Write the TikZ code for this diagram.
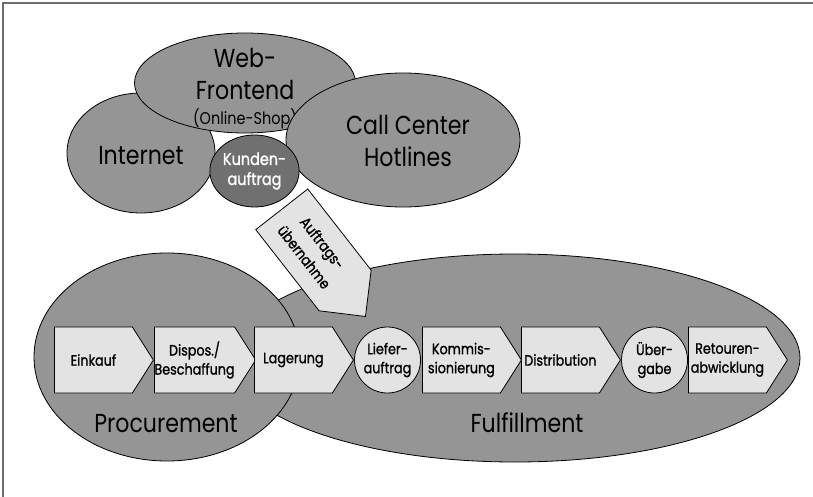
\documentclass[tikz,border=0pt]{standalone}
\usepackage{fontspec}
\setmainfont{Poppins}[FakeStretch=0.85]
\newfontfamily\labelfont{Poppins}[FakeStretch=0.85, FakeBold=1.2]
\usetikzlibrary{shapes.geometric,shapes.symbols}
\definecolor{blobgray}{gray}{0.585}
\definecolor{boxgray}{gray}{0.89}
\definecolor{ordergray}{gray}{0.44}
\definecolor{framegray}{gray}{0.43}
\begin{document}
\begin{tikzpicture}[x=1pt,y=-1pt,
  blob/.style={ellipse, draw, fill=blobgray, line width=0.8pt, inner sep=0pt},
  bigtext/.style={align=center, inner sep=0pt, font=\fontsize{26}{32}\selectfont},
  stepbox/.style={signal, signal to=east, signal pointer angle=115, draw, fill=boxgray, line width=0.8pt, minimum width=99pt, minimum height=66pt, inner sep=0pt, align=center, font=\labelfont\fontsize{15}{19}\selectfont, anchor=west},
  handover/.style={circle, draw, fill=boxgray, line width=0.8pt, minimum size=66pt, inner sep=0pt, align=center, font=\labelfont\fontsize{15}{19}\selectfont}]
\useasboundingbox (0,0) rectangle (813,497);
\draw[framegray, line width=2pt] (3,497) -- (3,3) -- (813,3);

\node[blob, minimum width=148pt, minimum height=120pt] (internet) at (141,153) {};
\node[bigtext, anchor=base] (internettext) at (141,165) {Internet};
\node[blob, minimum width=221pt, minimum height=100pt] (web) at (245,83) {};
\node[bigtext] (webtext) at (245,89) {Web-\\Frontend\\[-7pt]{\fontsize{17}{20}\selectfont(Online-Shop)}};
\node[blob, minimum width=234pt, minimum height=134pt] (callcenter) at (403,140) {};
\node[bigtext] (calltext) at (408,141) {Call Center\\Hotlines};
\node[ellipse, draw, fill=ordergray, line width=0.8pt, minimum width=81pt, minimum height=72pt, inner sep=0pt, align=center, text=white, font=\labelfont\fontsize{17}{20}\selectfont] (kunden) at (254.5,171) {Kunden-\\auftrag};

\node[blob, minimum width=570pt, minimum height=208pt] (fulfillment) at (515,358) {};
\node[blob, minimum width=266pt, minimum height=208pt] (procurement) at (167,357) {};
\node[bigtext, anchor=base] (proctext) at (166,432) {Procurement};
\node[bigtext, anchor=base] (fulftext) at (527,432) {Fulfillment};

\node[stepbox] (einkauf) at (54,360) {Einkauf};
\node[stepbox] (dispo) at (154,360) {Dispos./\\Beschaffung};
\node[stepbox] (lager) at (254,360) {Lagerung};
\node[handover] (liefer) at (387.5,360) {Liefer-\\auftrag};
\node[stepbox] (kommi) at (422,360) {Kommis-\\sionierung};
\node[stepbox] (distri) at (521,360) {Distribution};
\node[handover] (uebergabe) at (654.5,360) {Über-\\gabe};
\node[stepbox] (retoure) at (688,360) {Retouren-\\abwicklung};

\node[signal, signal to=east, signal pointer angle=90, draw, fill=boxgray, line width=0.8pt, minimum width=136pt, minimum height=66pt, inner sep=0pt, align=center, font=\labelfont\fontsize{15}{23}\selectfont, rotate=-52, anchor=west] (uebernahme) at (281.5,209) {Auftrags-\\übernahme};
\end{tikzpicture}
\end{document}
